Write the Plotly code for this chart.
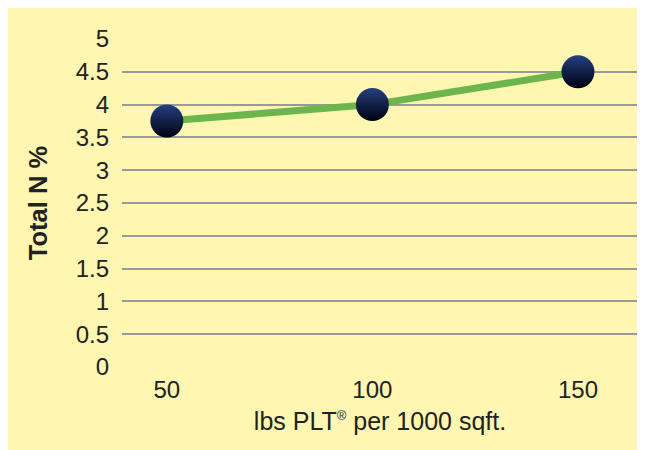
import plotly.graph_objects as go

x_vals = [50, 100, 150]
total_n = [3.75, 4.0, 4.5]
y_ticks = [0, 0.5, 1, 1.5, 2, 2.5, 3, 3.5, 4, 4.5, 5]
y_tick_labels = ["0", "0.5", "1", "1.5", "2", "2.5", "3", "3.5", "4", "4.5", "5"]
x_title = "lbs PLT<sup><span style='font-size:13px'>®</span></sup> per 1000 sqft."
y_title = "<b>Total N %</b>"

fig = go.Figure()
fig.add_trace(go.Scatter(
    x=x_vals, y=total_n, mode="lines",
    line=dict(color="#6db64b", width=7),
    hoverinfo="skip", showlegend=False,
))
fig.add_trace(go.Scatter(
    x=x_vals, y=total_n, mode="markers",
    marker=dict(size=33, color="#24407f",
                gradient=dict(type="vertical", color="#000010"),
                line=dict(width=0)),
    showlegend=False,
))

fig.update_layout(
    width=645, height=450,
    margin=dict(l=114, r=15, t=31, b=91),
    paper_bgcolor="#fff7b1",
    plot_bgcolor="#fff7b1",
    font=dict(family="Liberation Sans, Arial, sans-serif", color="#222222", size=24),
    xaxis=dict(range=[39.1, 164.6], tickvals=x_vals, ticktext=[str(v) for v in x_vals],
               showgrid=False, zeroline=False, showline=False, ticks="",
               tickfont=dict(size=24), ticklabelstandoff=6,
               title=dict(text=x_title, font=dict(size=25), standoff=10)),
    yaxis=dict(range=[0, 5], tickvals=y_ticks, ticktext=y_tick_labels,
               showgrid=True, gridcolor="#999999", gridwidth=1.5,
               zeroline=False, showline=False, ticks="",
               tickfont=dict(size=24), ticklabelstandoff=12,
               title=dict(text=y_title, font=dict(size=25.5), standoff=20)),
)

fig.write_html("out.html")
